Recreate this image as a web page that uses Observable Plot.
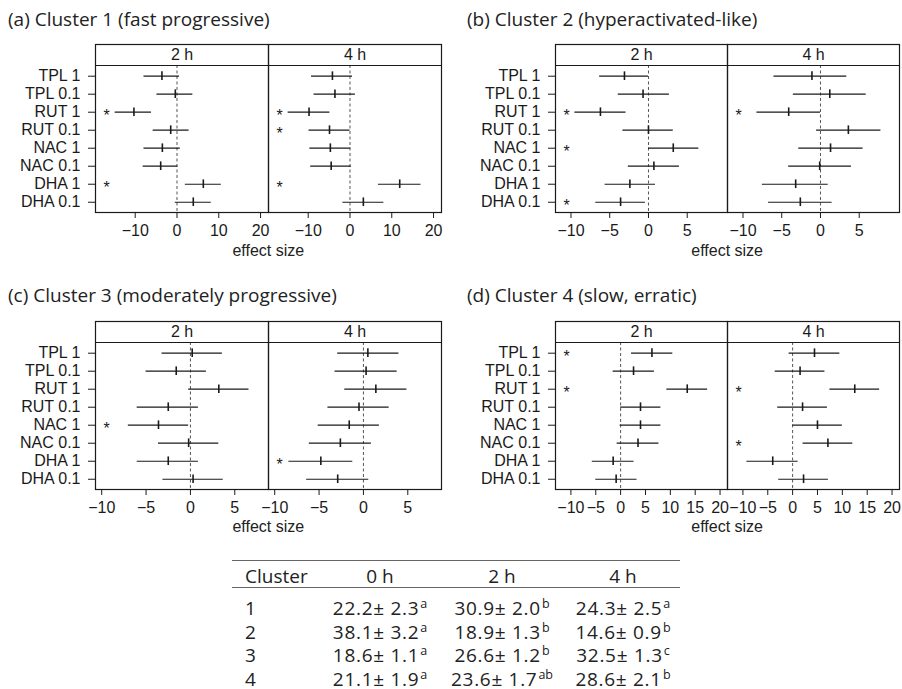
<!DOCTYPE html>
<html><head><meta charset="utf-8">
<script src="https://cdn.jsdelivr.net/npm/d3@7"></script>
<script src="https://cdn.jsdelivr.net/npm/@observablehq/plot@0.6"></script>
<style>
body{margin:0;background:#fff;}
#fig{position:relative;width:902px;height:689px;overflow:hidden;background:#fff;}
.title{position:absolute;font-family:'Open Sans',sans-serif;font-size:19px;line-height:19px;color:#222;white-space:nowrap;}
.panel{position:absolute;}
.xlab{position:absolute;font-family:'Liberation Sans',Arial,sans-serif;font-size:16px;line-height:16px;color:#222;transform:translate(-50%,-50%);white-space:nowrap;}
.tcell{position:absolute;font-family:'Open Sans',sans-serif;font-size:19px;line-height:14px;color:#222;white-space:nowrap;transform:translateY(-50%);}
.tcell.c{transform:translate(-50%,-50%);}
.tcell.v{letter-spacing:0.7px;}
.tcell sup{font-size:12.5px;line-height:0;vertical-align:0;position:relative;top:-7px;margin-left:1px;letter-spacing:0;}
.trule{position:absolute;height:0;border-top:1.5px solid #666;}
</style></head>
<body><div id="fig"></div>
<script>
// ---------- data ----------
const treatments = ["TPL 1","TPL 0.1","RUT 1","RUT 0.1","NAC 1","NAC 0.1","DHA 1","DHA 0.1"];
const times = ["2 h","4 h"];
const panelTitles = ["(a) Cluster 1 (fast progressive)","(b) Cluster 2 (hyperactivated-like)","(c) Cluster 3 (moderately progressive)","(d) Cluster 4 (slow, erratic)"];
const xTickLabel = "effect size";

// [lower CI, effect size, upper CI] per treatment (order of `treatments`)
const c1_2h = [[-7.9,-3.6,0.6],[-4.8,-0.4,3.8],[-14.8,-10.3,-6.1],[-5.7,-1.5,2.9],[-7.9,-3.5,0.8],[-8.1,-3.9,0.2],[2.0,6.3,10.6],[-0.4,3.9,8.2]];
const c1_4h = [[-9.2,-4.2,0.6],[-8.6,-3.6,1.3],[-14.8,-9.8,-4.8],[-9.8,-4.9,0.0],[-9.6,-4.7,0.2],[-9.4,-4.5,0.3],[6.8,11.9,17.0],[-1.7,3.2,8.1]];
const c1_sig2h = ["RUT 1","DHA 1"];
const c1_sig4h = ["RUT 1","RUT 0.1","DHA 1"];

const c2_2h = [[-6.3,-3.1,0.0],[-3.9,-0.7,2.7],[-9.5,-6.2,-2.9],[-3.3,0.0,3.2],[0.0,3.2,6.5],[-2.6,0.7,4.0],[-5.6,-2.4,0.9],[-6.8,-3.6,-0.4]];
const c2_4h = [[-6.0,-1.1,3.4],[-3.5,1.2,5.9],[-8.2,-4.1,0.0],[-0.5,3.6,7.8],[-2.8,1.3,5.5],[-4.1,-0.1,4.0],[-7.5,-3.2,1.0],[-6.7,-2.6,1.5]];
const c2_sig2h = ["RUT 1","NAC 1","DHA 0.1"];
const c2_sig4h = ["RUT 1"];

const c3_2h = [[-3.2,0.2,3.6],[-5.0,-1.6,1.8],[-0.2,3.2,6.6],[-6.0,-2.5,0.9],[-7.0,-3.6,-0.2],[-3.6,-0.2,3.2],[-6.0,-2.5,0.9],[-3.1,0.3,3.7]];
const c3_4h = [[-2.9,0.5,4.0],[-3.2,0.3,3.8],[-2.1,1.4,4.9],[-4.0,-0.5,2.9],[-5.1,-1.6,1.8],[-6.1,-2.6,0.9],[-8.4,-4.8,-1.2],[-6.4,-2.9,0.6]];
const c3_sig2h = ["NAC 1"];
const c3_sig4h = ["DHA 1"];

const c4_2h = [[2.2,6.3,10.5],[-1.5,2.6,6.8],[9.3,13.4,17.5],[0.0,4.0,8.1],[-0.1,4.0,8.1],[-0.7,3.5,7.7],[-5.7,-1.5,2.7],[-5.0,-0.9,3.3]];
const c4_4h = [[-0.7,4.4,9.5],[-3.5,1.5,6.5],[7.5,12.5,17.5],[-3.0,2.0,7.0],[0.0,5.0,10.0],[2.1,7.1,12.1],[-9.2,-4.0,1.1],[-2.8,2.2,7.2]];
const c4_sig2h = ["TPL 1","RUT 1"];
const c4_sig4h = ["RUT 1","NAC 0.1"];

const xTicks_a = [-10,0,10,20];
const xTicks_b = [-10,-5,0,5];
const xTicks_c = [-10,-5,0,5];
const xTicks_d = [-10,-5,0,5,10,15,20];

// table
const tableHeader = ["Cluster","0 h","2 h","4 h"];
const clusters = ["1","2","3","4"];
const mean0 = [22.2,38.1,18.6,21.1], se0 = [2.3,3.2,1.1,1.9], let0 = ["a","a","a","a"];
const mean2 = [30.9,18.9,26.6,23.6], se2 = [2.0,1.3,1.2,1.7], let2 = ["b","b","b","ab"];
const mean4 = [24.3,14.6,32.5,28.6], se4 = [2.5,0.9,1.3,2.1], let4 = ["a","b","c","b"];

// ---------- drawing ----------
const fig = document.getElementById("fig");
const ink = "#1a1a1a";
const stripEdge = -0.594, yMin = -1.76, yMax = 7.57;

function makeRows(sets, sigs) {
  const out = [];
  times.forEach((t, k) => {
    sets[k].forEach((v, i) => out.push({time: t, row: i, treatment: treatments[i], lo: v[0], est: v[1], hi: v[2], sig: sigs[k].includes(treatments[i])}));
  });
  return out;
}

function panel(rows, xDomain, xTicks, box) {
  const chart = Plot.plot({
    width: box.w, height: box.h,
    marginLeft: box.ml, marginRight: box.mr, marginTop: box.mt, marginBottom: box.mb,
    style: {fontFamily: "'Liberation Sans', Arial, sans-serif", fontSize: "16px", color: ink, background: "transparent", overflow: "visible"},
    fx: {domain: times, padding: 0, axis: null},
    x: {domain: xDomain, ticks: xTicks, tickSize: 6, tickPadding: 6, label: null},
    y: {domain: [yMin, yMax], reverse: true, ticks: treatments.map((_, i) => i), tickFormat: i => treatments[i], tickSize: 7, tickPadding: 8, label: null},
    marks: [
      Plot.ruleX([0], {y1: stripEdge, y2: yMax, stroke: "#555", strokeWidth: 1, strokeDasharray: "3,2.5"}),
      Plot.ruleY(rows, {fx: "time", y: "row", x1: "lo", x2: "hi", stroke: ink, strokeWidth: 1.2}),
      Plot.ruleX(rows, {fx: "time", x: "est", y1: d => d.row - 0.24, y2: d => d.row + 0.24, stroke: ink, strokeWidth: 1.6}),
      Plot.text(rows.filter(d => d.sig), {fx: "time", y: "row", frameAnchor: "left", lineAnchor: "middle", dx: 8, dy: 4, text: () => "*", fontSize: 16, fill: ink}),
      Plot.ruleY([stripEdge], {stroke: ink, strokeWidth: 1.2}),
      Plot.text(times, {fx: d => d, text: d => d, frameAnchor: "top", lineAnchor: "middle", dy: 10.5, fontSize: 16, fill: ink}),
      Plot.frame({stroke: ink, strokeWidth: 1.2})
    ]
  });
  chart.classList.add("panel");
  chart.style.left = box.x + "px";
  chart.style.top = box.y + "px";
  fig.appendChild(chart);
}

function addDiv(cls, html, x, y) {
  const d = document.createElement("div");
  d.className = cls;
  d.innerHTML = html;
  d.style.left = x + "px";
  d.style.top = y + "px";
  fig.appendChild(d);
  return d;
}

const boxA = {x: 0, y: 0, w: 451, h: 262, ml: 95, mr: 9.5, mt: 44, mb: 50};
const boxB = {x: 451, y: 0, w: 451, h: 262, ml: 103.3, mr: 2, mt: 44, mb: 50};
const boxC = {x: 0, y: 276.7, w: 451, h: 262, ml: 95, mr: 9.5, mt: 44, mb: 50};
const boxD = {x: 451, y: 276.7, w: 451, h: 262, ml: 103.3, mr: 2, mt: 44, mb: 50};

panel(makeRows([c1_2h, c1_4h], [c1_sig2h, c1_sig4h]), [-19.5, 21.9], xTicks_a, boxA);
panel(makeRows([c2_2h, c2_4h], [c2_sig2h, c2_sig4h]), [-12, 10.2], xTicks_b, boxB);
panel(makeRows([c3_2h, c3_4h], [c3_sig2h, c3_sig4h]), [-10.7, 8.8], xTicks_c, boxC);
panel(makeRows([c4_2h, c4_4h], [c4_sig2h, c4_sig4h]), [-13.1, 21.5], xTicks_d, boxD);

// titles
addDiv("title", panelTitles[0], 8, 9.8);
addDiv("title", panelTitles[1], 467, 9.8);
addDiv("title", panelTitles[2], 8, 285.6);
addDiv("title", panelTitles[3], 467, 285.6);

// x axis titles (centred under each panel pair)
[boxA, boxB, boxC, boxD].forEach(b => {
  const cx = b.x + b.ml + (b.w - b.ml - b.mr) / 2;
  addDiv("xlab", xTickLabel, cx, b.y + 250.7);
});

// table
const ruleL = 231.5, ruleR = 680;
const r1 = addDiv("trule", "", ruleL, 560.3); r1.style.width = (ruleR - ruleL) + "px";
const r2 = addDiv("trule", "", ruleL, 586.5); r2.style.width = (ruleR - ruleL) + "px";
const colX = [245, 380, 502, 623];
addDiv("tcell", tableHeader[0], colX[0], 576);
for (let j = 1; j < 4; j++) addDiv("tcell c", tableHeader[j], colX[j], 576);
const cols = [[mean0, se0, let0], [mean2, se2, let2], [mean4, se4, let4]];
clusters.forEach((c, i) => {
  const y = 608 + i * 23.7;
  addDiv("tcell", c, colX[0], y);
  cols.forEach((col, j) => {
    addDiv("tcell c v", `${col[0][i].toFixed(1)}± ${col[1][i].toFixed(1)}<sup>${col[2][i]}</sup>`, colX[j + 1], y);
  });
});
</script>
</body></html>
